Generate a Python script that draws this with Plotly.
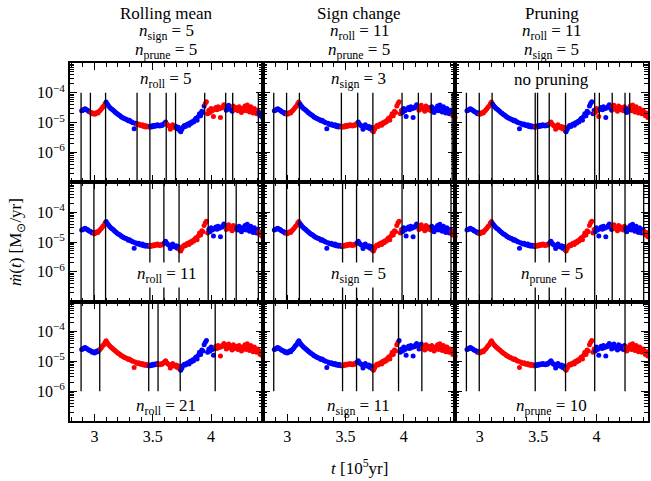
import plotly.graph_objects as go
from plotly.subplots import make_subplots

# Time grid [10^5 yr]
t_1e5yr = [
    2.89, 2.90, 2.91, 2.92, 2.93, 2.94, 2.95, 2.96, 2.97, 2.98,
    2.99, 3.00, 3.01, 3.02, 3.03, 3.04, 3.05, 3.06, 3.07, 3.08,
    3.09, 3.10, 3.11, 3.12, 3.13, 3.14, 3.15, 3.16, 3.17, 3.18,
    3.19, 3.20, 3.21, 3.22, 3.23, 3.24, 3.25, 3.26, 3.27, 3.28,
    3.29, 3.30, 3.31, 3.32, 3.33, 3.34, 3.35, 3.36, 3.37, 3.38,
    3.39, 3.40, 3.41, 3.42, 3.43, 3.44, 3.45, 3.46, 3.47, 3.48,
    3.49, 3.50, 3.51, 3.52, 3.53, 3.54, 3.55, 3.56, 3.57, 3.58,
    3.59, 3.60, 3.61, 3.62, 3.63, 3.64, 3.65, 3.66, 3.67, 3.68,
    3.69, 3.70, 3.71, 3.72, 3.73, 3.74, 3.75, 3.76, 3.77, 3.78,
    3.79, 3.80, 3.81, 3.82, 3.83, 3.84, 3.85, 3.86, 3.87, 3.88,
    3.89, 3.90, 3.91, 3.92, 3.93, 3.94, 3.95, 3.96, 3.97, 3.98,
    3.99, 4.00, 4.01, 4.02, 4.03, 4.04, 4.05, 4.06, 4.07, 4.08,
    4.09, 4.10, 4.11, 4.12, 4.13, 4.14, 4.15, 4.16, 4.17, 4.18,
    4.19, 4.20, 4.21, 4.22, 4.23, 4.24, 4.25, 4.26, 4.27, 4.28,
    4.29, 4.30, 4.31, 4.32, 4.33, 4.34, 4.35, 4.36, 4.37, 4.38,
    4.39, 4.40, 4.41, 4.42, 4.43, 4.44,
]

# Accretion rate in units of 1e-5 Msun/yr
mdot_1e5 = [
    2.5, 2.6, 2.8, 2.9, 2.7, 2.6, 2.4, 2.3, 2.2, 2.0,
    2.1, 1.9, 2.0, 2.2, 2.1, 2.4, 2.6, 2.9, 3.3, 3.6,
    4.3, 4.9, 4.2, 3.7, 3.3, 3.0, 2.8, 2.6, 2.4, 2.2,
    2.05, 1.9, 1.8, 1.7, 1.55, 1.5, 1.4, 1.35, 1.3, 1.25,
    1.15, 1.2, 1.1, 1.05, 1.0, 0.62, 0.95, 0.9, 0.85, 0.9,
    0.82, 0.8, 0.85, 0.75, 0.8, 0.72, 0.78, 0.74, 0.7, 0.76,
    0.72, 0.8, 0.75, 0.82, 0.78, 0.85, 0.8, 0.77, 0.83, 0.8,
    0.88, 0.95, 1.05, 0.9, 0.82, 0.78, 0.6, 0.75, 0.85, 0.72,
    0.68, 0.75, 0.62, 0.7, 0.55, 0.5, 0.6, 0.72, 0.8, 0.75,
    0.85, 0.9, 0.82, 1.0, 0.95, 1.1, 1.05, 1.25, 1.4, 1.2,
    1.6, 2.0, 1.7, 2.4, 2.2, 3.6, 4.4, 5.0, 2.0, 2.6,
    2.2, 3.0, 2.5, 1.6, 2.8, 3.2, 2.7, 3.4, 2.9, 1.5,
    3.1, 3.5, 4.0, 3.3, 2.6, 3.5, 3.8, 2.8, 3.0, 2.4,
    3.6, 2.7, 3.2, 2.9, 2.5, 3.4, 2.8, 2.2, 3.0, 2.6,
    3.6, 2.5, 3.9, 2.9, 2.3, 3.4, 2.7, 2.1, 3.0, 2.4,
    2.0, 2.6, 2.2, 1.7, 2.1, 1.5,
]

# Segment boundaries [10^5 yr] found for each parameter setting (row, col)
breaks = {
    (1, 1): [2.885, 2.965, 3.095, 3.365, 3.475, 3.615, 3.695, 3.945, 4.125, 4.185, 4.405],
    (1, 2): [2.885, 2.995, 3.105, 3.465, 3.605, 3.735, 3.985, 4.125, 4.235, 4.415],
    (1, 3): [2.885, 2.995, 3.105, 3.475, 3.495, 3.595, 3.735, 3.985, 4.025, 4.135, 4.245, 4.285],
    (2, 1): [2.885, 2.995, 3.095, 3.475, 3.595, 3.725, 3.975, 4.125, 4.215, 4.405],
    (2, 2): [2.885, 2.995, 3.105, 3.475, 3.595, 3.735, 3.985, 4.125, 4.235, 4.405],
    (2, 3): [2.885, 2.995, 3.105, 3.475, 3.595, 3.735, 3.985, 4.135, 4.245, 4.405],
    (3, 1): [2.885, 3.045, 3.465, 3.545, 3.735, 4.035],
    (3, 2): [2.885, 3.475, 3.595, 3.735, 3.955, 4.155],
    (3, 3): [2.885, 2.995, 3.475, 3.735, 3.985, 4.245],
}

col_titles = ["Rolling mean", "Sign change", "Pruning"]
col_fixed = [
    ["<i>n</i><sub>sign</sub> = 5", "<i>n</i><sub>prune</sub> = 5"],
    ["<i>n</i><sub>roll</sub> = 11", "<i>n</i><sub>prune</sub> = 5"],
    ["<i>n</i><sub>roll</sub> = 11", "<i>n</i><sub>sign</sub> = 5"],
]
panel_labels = {
    (1, 1): "<i>n</i><sub>roll</sub> = 5",
    (1, 2): "<i>n</i><sub>sign</sub> = 3",
    (1, 3): "no pruning",
    (2, 1): "<i>n</i><sub>roll</sub> = 11",
    (2, 2): "<i>n</i><sub>sign</sub> = 5",
    (2, 3): "<i>n</i><sub>prune</sub> = 5",
    (3, 1): "<i>n</i><sub>roll</sub> = 21",
    (3, 2): "<i>n</i><sub>sign</sub> = 11",
    (3, 3): "<i>n</i><sub>prune</sub> = 10",
}

y_tickvals = [1e-6, 1e-5, 1e-4]
y_ticktext = ["10<sup>−6</sup>", "10<sup>−5</sup>", "10<sup>−4</sup>"]
x_tickvals = [3, 3.5, 4]
x_ticktext = ["3", "3.5", "4"]

FONT = "Liberation Serif, Times New Roman, serif"
BLUE = "#0000ff"
RED = "#ff0000"

fig = make_subplots(rows=3, cols=3, shared_xaxes=True, shared_yaxes=True,
                    horizontal_spacing=0, vertical_spacing=0)

mdot = [v * 1e-5 for v in mdot_1e5]

# vertical extent of the segment markers in each row
vline_span = {1: (1e-7, 1e-4), 2: (1e-7, 1e-3), 3: (1e-6, 1e-3)}
label_y = {1: 0.86, 2: 0.22, 3: 0.115}

for r in range(1, 4):
    for c in range(1, 4):
        b = breaks[(r, c)]
        colors = []
        for t in t_1e5yr:
            n = sum(1 for x in b if x <= t)
            colors.append(BLUE if n % 2 == 1 else RED)
        fig.add_trace(go.Scatter(
            x=t_1e5yr, y=mdot, mode="markers",
            marker=dict(size=5, color=colors, line=dict(width=0)),
            cliponaxis=False, showlegend=False, hoverinfo="skip"),
            row=r, col=c)
        lo, hi = vline_span[r]
        xs, ys = [], []
        for x in b:
            xs += [x, x, None]
            ys += [lo, hi, None]
        fig.add_trace(go.Scatter(
            x=xs, y=ys, mode="lines", line=dict(color="black", width=1.3),
            showlegend=False, hoverinfo="skip"), row=r, col=c)

        idx = (r - 1) * 3 + c
        suffix = "" if idx == 1 else str(idx)
        fig.add_annotation(
            xref=f"x{suffix} domain", yref=f"y{suffix} domain",
            x=0.5, y=label_y[r], text=panel_labels[(r, c)],
            showarrow=False, font=dict(family=FONT, size=17, color="black"),
            bgcolor="white" if r == 2 else "rgba(0,0,0,0)",
            xanchor="center", yanchor="middle", borderpad=1)

minor_y = [k * 10.0 ** e for e in range(-7, -3) for k in range(2, 10)]

fig.update_yaxes(
    type="log", range=[-7, -3],
    tickmode="array", tickvals=y_tickvals, ticktext=y_ticktext,
    ticks="inside", ticklen=7, tickwidth=1, tickcolor="black",
    minor=dict(tickvals=minor_y, ticks="inside", ticklen=4, tickwidth=1, tickcolor="black"),
    showline=True, linewidth=2, linecolor="black", mirror="allticks",
    showgrid=False, zeroline=False,
    tickfont=dict(family=FONT, size=16, color="black"))

fig.update_xaxes(
    range=[2.79, 4.442],
    tickmode="array", tickvals=x_tickvals, ticktext=x_ticktext,
    ticks="inside", ticklen=7, tickwidth=1, tickcolor="black",
    minor=dict(tick0=2.8, dtick=0.1, ticks="inside", ticklen=4, tickwidth=1, tickcolor="black"),
    showline=True, linewidth=2, linecolor="black", mirror="allticks",
    showgrid=False, zeroline=False,
    tickfont=dict(family=FONT, size=16, color="black"))

# column headers
col_centers = [1 / 6, 3 / 6, 5 / 6]
for i in range(3):
    lines = [col_titles[i]] + col_fixed[i]
    for j, txt in enumerate(lines):
        fig.add_annotation(
            xref="paper", yref="paper", x=col_centers[i], y=1,
            yshift=50 - 19 * j, text=txt, showarrow=False,
            font=dict(family=FONT, size=17, color="black"),
            xanchor="center", yanchor="middle")

fig.add_annotation(
    xref="paper", yref="paper", x=0.5, y=0, yshift=-46,
    text="<i>t</i> [10<sup>5</sup>yr]", showarrow=False,
    font=dict(family=FONT, size=17, color="black"),
    xanchor="center", yanchor="middle")
fig.add_annotation(
    xref="paper", yref="paper", x=0, xshift=-53, y=0.5,
    text="<i>ṁ</i>(<i>t</i>) [M<sub>⊙</sub>/yr]", showarrow=False, textangle=-90,
    font=dict(family=FONT, size=17, color="black"),
    xanchor="center", yanchor="middle")

fig.update_layout(
    width=651, height=481,
    margin=dict(l=70, r=1, t=63, b=60),
    paper_bgcolor="white", plot_bgcolor="white",
    font=dict(family=FONT, color="black"),
)

fig.write_html("out.html")
